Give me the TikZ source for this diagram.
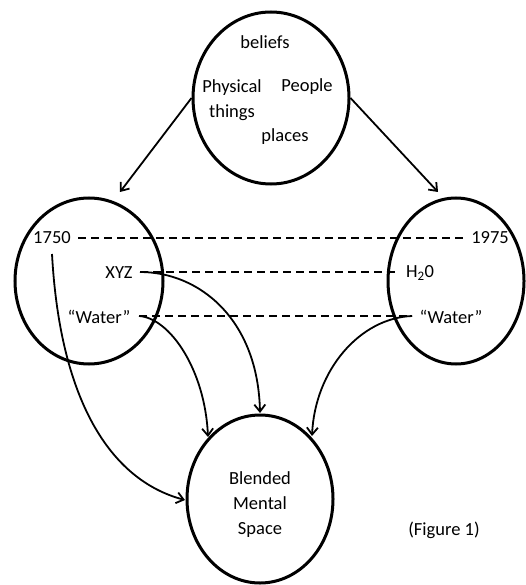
\documentclass[tikz,border=0pt]{standalone}
\usepackage{fontspec}
\setmainfont{Carlito}
\usetikzlibrary{shapes.geometric,arrows.meta}
\tikzset{
  space/.style={draw, ellipse, line width=3pt, inner sep=0pt},
  lbl/.style={inner sep=0pt, font=\fontsize{18.5}{25}\selectfont, align=center},
  conn/.style={line width=1.8pt, -{Straight Barb[length=7pt,width=11pt,line width=1.8pt]}},
  corr/.style={line width=2.5pt, dash pattern=on 8pt off 5pt}
}
\begin{document}
\begin{tikzpicture}[x=1pt,y=-1pt]
\useasboundingbox (0,0) rectangle (525,585);
% spaces
\node[space, minimum width=156pt, minimum height=172pt] (top) at (271,98) {};
\node[space, minimum width=148pt, minimum height=166pt] (left) at (89,281) {};
\node[space, minimum width=136pt, minimum height=166pt] (right) at (456,281) {};
\node[space, minimum width=146pt, minimum height=168pt] (blend) at (260,499) {};
% top texts
\node[lbl] (beliefs) at (265,42) {beliefs};
\node[lbl] (phys) at (232,100) {Physical\\things};
\node[lbl] (people) at (307,87) {People};
\node[lbl] (places) at (285,137) {places};
% left texts
\node[lbl] (y1750) at (52,238) {1750};
\node[lbl] (xyz) at (119,273) {XYZ};
\node[lbl] (waterL) at (99,317) {“Water”};
% right texts
\node[lbl] (y1975) at (490,238) {1975};
\node[lbl] (h2o) at (420,273) {H\textsubscript{2}0};
\node[lbl] (waterR) at (451,317) {“Water”};
% blend text
\node[lbl] (blendtxt) at (260,505) {Blended\\Mental\\Space};
\node[lbl] (fig) at (444,530) {(Figure 1)};
% connector points
\coordinate (aL) at (120,192);
\coordinate (aR) at (438,192);
\coordinate (d1s) at (78,238);
\coordinate (d1e) at (463,238);
\coordinate (d2s) at (140,272);
\coordinate (d2e) at (398,272);
\coordinate (d3s) at (139,316);
\coordinate (d3e) at (412,316);
\coordinate (c1s) at (52,254);
\coordinate (t1) at (185,500);
\coordinate (t2) at (260,413);
\coordinate (t3) at (208,437);
\coordinate (t4) at (312,436);
% arrows from top
\draw[conn] (top.west) -- (aL);
\draw[conn] (top.east) -- (aR);
% dashed correspondences
\draw[corr] (d1s) -- (d1e);
\draw[corr] (d2s) -- (d2e);
\draw[corr] (d3s) -- (d3e);
% projections into blend
\draw[conn] (c1s) .. controls (60,400) and (110,480) .. (t1);
\draw[conn] (d2s) .. controls (200,272) and (258,320) .. (t2);
\draw[conn] (d3s) .. controls (170,318) and (205,370) .. (t3);
\draw[conn] (d3e) .. controls (360,318) and (315,370) .. (t4);
\end{tikzpicture}
\end{document}
